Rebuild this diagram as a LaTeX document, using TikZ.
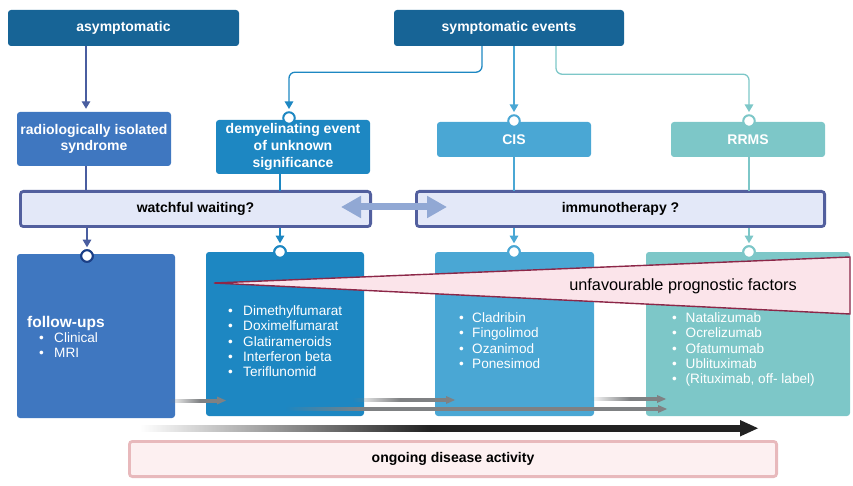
\documentclass[tikz,border=0pt]{standalone}
\usepackage{fontspec}
\setmainfont{Liberation Sans}
\usetikzlibrary{arrows.meta,fadings}
\definecolor{cHead}{HTML}{176496}
\definecolor{cRis}{HTML}{3F77C0}
\definecolor{cDem}{HTML}{1D87C2}
\definecolor{cCis}{HTML}{4AA7D4}
\definecolor{cRr}{HTML}{7DC7C8}
\definecolor{cAsL}{HTML}{4A5EA0}
\definecolor{cNavy}{HTML}{1B3F86}
\definecolor{wwFill}{HTML}{E3E8F8}
\definecolor{wwLine}{HTML}{525F9E}
\definecolor{dblA}{HTML}{91A8D4}
\definecolor{ogFill}{HTML}{FDF0F1}
\definecolor{ogLine}{HTML}{E8B9BC}
\definecolor{trFill}{HTML}{FBE4EA}
\definecolor{trLine}{HTML}{8C2748}
\definecolor{grayA}{HTML}{7F8183}
\definecolor{darkA}{HTML}{222222}
\tikzfading[name=fadeleft, left color=transparent!100, right color=transparent!0]
\newcommand{\bul}[2]{\makebox[#1][l]{\textbullet}#2}
\begin{document}
\begin{tikzpicture}[x=1pt,y=-1pt,
  box/.style={rounded corners=3pt, inner sep=0pt, text=white, align=center,
    font=\bfseries\fontsize{14}{16.7}\selectfont},
  frame/.style={draw=wwLine, line width=2.8pt, fill=wwFill, rounded corners=3pt,
    inner sep=0pt, minimum height=35.2pt, font=\bfseries\fontsize{14}{16}\selectfont},
  circ/.style={circle, fill=white, line width=2pt, minimum size=11.5pt, inner sep=0pt},
  conn/.style={line width=1.3pt, -{Triangle[width=8.5pt,length=7.5pt]}, shorten >=2pt},
  plain/.style={line width=1.3pt},
  lst/.style={anchor=north west, inner sep=0pt, align=left, text=white,
    font=\fontsize{13.6}{15.3}\selectfont},
]
\useasboundingbox (0,0) rectangle (853,486);

% top boxes
\node[box, fill=cHead, minimum width=231pt, minimum height=36pt] (asym) at (123.5,28) {asymptomatic};
\node[box, fill=cHead, minimum width=230pt, minimum height=36pt] (symp) at (509,28) {symptomatic events};

% second row
\node[box, fill=cRis, minimum width=154pt, minimum height=54pt] (ris) at (94,139) {radiologically isolated\\syndrome};
\node[box, fill=cDem, minimum width=154pt, minimum height=54pt] (dem) at (293,147) {demyelinating event\\of unknown\\significance};
\node[box, fill=cCis, minimum width=154pt, minimum height=35pt] (cis) at (514,139.5) {CIS};
\node[box, fill=cRr, minimum width=154pt, minimum height=35pt] (rrms) at (748,139.5) {RRMS};

% decision frames
\node[frame, minimum width=350.2pt] (ww) at (195.5,209) {watchful waiting?};
\node[frame, minimum width=408.2pt] (imm) at (620.5,209) {immunotherapy ?};

% bottom boxes
\node[box, fill=cRis, minimum width=158pt, minimum height=164pt] (fu) at (96,336) {};
\node[box, fill=cDem, minimum width=158pt, minimum height=164pt] (b2) at (285,334) {};
\node[box, fill=cCis, minimum width=159pt, minimum height=164pt] (b3) at (514.5,334) {};
\node[box, fill=cRr, minimum width=204pt, minimum height=164pt] (b4) at (748,334) {};

% connectors top
\draw[cAsL, conn, shorten >=3pt] ([xshift=-37.5pt]asym.south) -- (ris.north -| {86,0});
\draw[cDem, conn, rounded corners=6pt] ([xshift=-27pt]symp.south) -- ++(0,26) -| (289,111);
\draw[cCis, conn] ([xshift=5pt]symp.south) -- (514,114);
\draw[cRr, conn, rounded corners=6pt] ([xshift=47pt]symp.south) -- ++(0,28) -| (749,114);

% circles on second row
\node[circ, draw=cDem] (c2) at (289,118) {};
\node[circ, draw=cCis] (c3) at (514,121) {};
\node[circ, draw=cRr] (c4) at (749,121) {};

% into frames
\draw[cAsL, plain] ([xshift=-8pt]ris.south) -- (ww.north -| {86,0});
\draw[cDem, plain] ([xshift=-13pt]dem.south) -- ([yshift=-1.25pt]ww.north -| {280,0});
\draw[cCis, plain] (cis.south) -- ([yshift=-1.25pt]imm.north -| {514,0});
\draw[cRr, plain] ([xshift=1pt]rrms.south) -- ([yshift=-1.25pt]imm.north -| {749,0});

% out of frames
\node[circ, draw=cNavy] (c1) at (87,256) {};
\node[circ, draw=cDem] (c5) at (280,252) {};
\node[circ, draw=cCis] (c6) at (514,252) {};
\node[circ, draw=cRr] (c7) at (749,252) {};
\draw[cAsL, conn] (ww.south -| c1) -- (c1.north);
\draw[cDem, conn] (ww.south -| c5) -- (c5.north);
\draw[cCis, conn] (imm.south -| c6) -- (c6.north);
\draw[cRr, conn] (imm.south -| c7) -- (c7.north);
\node[circ, draw=cNavy] at (c1) {};
\node[circ, draw=cDem] at (c5) {};
\node[circ, draw=cCis] at (c6) {};
\node[circ, draw=cRr] at (c7) {};

% double arrow
\coordinate (dl) at (341,207);
\coordinate (dr) at (447,207);
\draw[dblA, line width=7pt, {Triangle[width=21pt,length=20pt]}-{Triangle[width=21pt,length=20pt]}] (dl) -- (dr);

% lists
\node[anchor=base west, inner sep=0pt, text=white, font=\bfseries\fontsize{15.5}{18}\selectfont] (futitle) at (27,327.5) {follow-ups};
\node[lst] (l1) at (39,332) {\bul{15pt}{Clinical}\\\bul{15pt}{MRI}};
\node[lst] (l2) at (228,305.5) {\bul{15pt}{Dimethylfumarat}\\\bul{15pt}{Doximelfumarat}\\\bul{15pt}{Glatirameroids}\\\bul{15pt}{Interferon beta}\\\bul{15pt}{Teriflunomid}};
\node[lst] (l3) at (459,312.5) {\bul{13pt}{Cladribin}\\\bul{13pt}{Fingolimod}\\\bul{13pt}{Ozanimod}\\\bul{13pt}{Ponesimod}};
\node[lst] (l4) at (672,312.5) {\bul{13.5pt}{Natalizumab}\\\bul{13.5pt}{Ocrelizumab}\\\bul{13.5pt}{Ofatumumab}\\\bul{13.5pt}{Ublituximab}\\\bul{13.5pt}{(Rituximab, off- label)}};

% prognostic wedge
\draw[fill=trFill, draw=trLine, line width=1.4pt, line join=miter] (214,283) -- (850,257) -- (850,314) -- cycle;
\node[inner sep=0pt, font=\fontsize{16.3}{19}\selectfont] (prog) at (683,286) {unfavourable prognostic factors};

% gray arrows
\fill[grayA, path fading=fadeleft] (168,398.5) rectangle (200,402.5);
\fill[grayA] (199.5,398.5) rectangle (218,402.5);
\fill[grayA] (217,396.5) -- (226,400.5) -- (217,404.5) -- cycle;

\fill[grayA, path fading=fadeleft] (352,398) rectangle (400,402);
\fill[grayA] (399.5,398) rectangle (447,402);
\fill[grayA] (446,396) -- (455,400) -- (446,404) -- cycle;

\fill[grayA, path fading=fadeleft] (590,397) rectangle (630,401);
\fill[grayA] (629.5,397) rectangle (658,401);
\fill[grayA] (657,395) -- (666,399) -- (657,403) -- cycle;

\fill[grayA, path fading=fadeleft] (285,407) rectangle (365,411);
\fill[grayA] (364.5,407) rectangle (659,411);
\fill[grayA] (658,405) -- (667,409) -- (658,413) -- cycle;

% black progress arrow
\shade[left color=white, right color=darkA] (140,425) rectangle (430,431.5);
\fill[darkA] (429.5,425) rectangle (742,431.5);
\fill[darkA] (740,420) -- (758,428.25) -- (740,436.5) -- cycle;

% ongoing disease activity
\node[draw=ogLine, fill=ogFill, line width=2.8pt, rounded corners=3pt, inner sep=0pt,
  minimum width=647.2pt, minimum height=35.2pt, font=\bfseries\fontsize{14}{16}\selectfont] (og) at (453,459) {ongoing disease activity};
\end{tikzpicture}
\end{document}
